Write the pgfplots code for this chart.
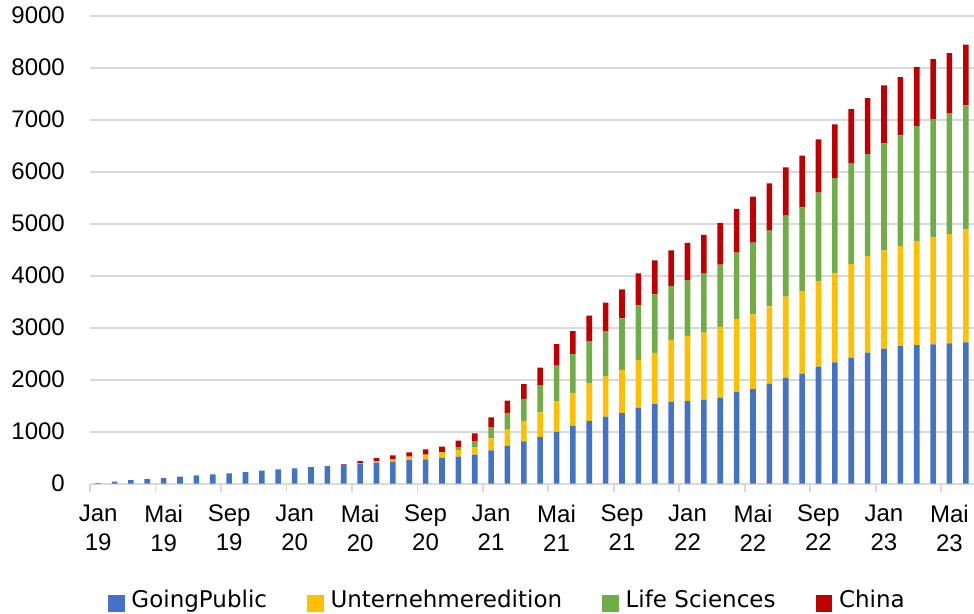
\documentclass[border=0pt]{standalone}
\usepackage{pgfplots}
\pgfplotsset{compat=1.18}
\usepackage{pgfplotstable}
\usepackage{fontspec}
\setmainfont{Liberation Sans}
\newfontfamily\legfont{DejaVu Sans}
\definecolor{cblue}{HTML}{4472C4}
\definecolor{cyellow}{HTML}{FFC000}
\definecolor{cgreen}{HTML}{70AD47}
\definecolor{cred}{HTML}{C00000}
\definecolor{cgrid}{HTML}{D9D9D9}
\pgfplotstableread{
x b y g r
0 13 0 0 0
1 38 0 0 0
2 70 0 0 0
3 90 0 0 0
4 109 0 0 0
5 135 0 0 0
6 160 0 0 0
7 180 0 0 0
8 199 0 0 0
9 224 0 0 0
10 250 0 0 0
11 276 0 0 0
12 295 0 0 0
13 320 0 0 0
14 340 0 0 0
15 365 0 0 13
16 385 13 0 38
17 404 32 0 58
18 423 45 0 77
19 455 64 0 83
20 468 90 0 103
21 500 109 0 103
22 519 128 58 122
23 558 147 115 147
24 640 231 218 186
25 728 312 321 238
26 815 392 424 282
27 899 475 520 340
28 995 591 687 411
29 1111 636 745 443
30 1207 732 803 488
31 1290 777 867 546
32 1361 822 995 559
33 1458 922 1047 620
34 1530 984 1125 656
35 1575 1190 1035 688
36 1595 1247 1074 714
37 1614 1292 1132 746
38 1653 1363 1196 804
39 1768 1395 1280 842
40 1820 1434 1382 887
41 1923 1485 1460 907
42 2038 1562 1556 926
43 2115 1589 1611 992
44 2250 1647 1699 1026
45 2333 1711 1833 1032
46 2423 1801 1929 1051
47 2519 1859 1961 1077
48 2596 1891 2058 1115
49 2647 1923 2128 1122
50 2667 2000 2211 1135
51 2679 2070 2263 1154
52 2699 2102 2327 1154
53 2718 2173 2385 1167
}\datatable
\begin{document}
\begin{tikzpicture}
\path[use as bounding box] (-90pt,-129.3pt) rectangle (884pt,483.7pt);
\begin{axis}[
  scale only axis,
  width=884pt, height=468pt,
  ybar stacked, bar width=5.6pt,
  xmin=-0.5, xmax=53.5,
  ymin=0, ymax=9000,
  ytick={0,1000,...,9000},
  xtick={0,4,...,52},
  xticklabels={{Jan\\19},{Mai\\19},{Sep\\19},{Jan\\20},{Mai\\20},{Sep\\20},{Jan\\21},{Mai\\21},{Sep\\21},{Jan\\22},{Mai\\22},{Sep\\22},{Jan\\23},{Mai\\23}},
  extra x ticks={-0.5,3.5,...,51.5},
  extra x tick labels={},
  extra x tick style={major tick length=8pt, tick align=outside, tick style={draw=cgrid, line width=1.8pt}, grid=none},
  major tick length=0pt,
  axis x line*=bottom,
  axis y line*=left,
  x axis line style={draw=cgrid, line width=1.8pt},
  y axis line style={draw=none},
  ymajorgrids,
  grid style={draw=cgrid, line width=1.8pt},
  /pgf/number format/assume math mode=true,
  /pgf/number format/1000 sep={},
  scaled y ticks=false,
  yticklabel style={font=\fontsize{24}{28}\selectfont, inner sep=0pt, anchor=east, xshift=-25pt},
  xticklabel style={font=\fontsize{24}{29}\selectfont, inner sep=0pt, anchor=north, align=center, yshift=-21pt},
  legend columns=4,
  legend cell align=left,
  legend style={at={(0,0)}, anchor=north west, xshift=18pt, yshift=-106.8pt, draw=none, fill=none, inner sep=0pt, outer sep=0pt,
    cells={anchor=base west},
    nodes={inner sep=0pt, font=\legfont\fontsize{23}{27}\selectfont},
    /tikz/every even column/.append style={column sep=40pt}},
  legend image code/.code={\fill[#1,draw=none] (0pt,-3.7pt) rectangle (16.7pt,13pt); \path (23.5pt,0pt);},
  clip=false,
]
\addplot[fill=cblue, draw=none] table[x=x, y=b] {\datatable};
\addplot[fill=cyellow, draw=none] table[x=x, y=y] {\datatable};
\addplot[fill=cgreen, draw=none] table[x=x, y=g] {\datatable};
\addplot[fill=cred, draw=none] table[x=x, y=r] {\datatable};
\legend{GoingPublic, Unternehmeredition, Life Sciences, China}
\end{axis}
\end{tikzpicture}
\end{document}
